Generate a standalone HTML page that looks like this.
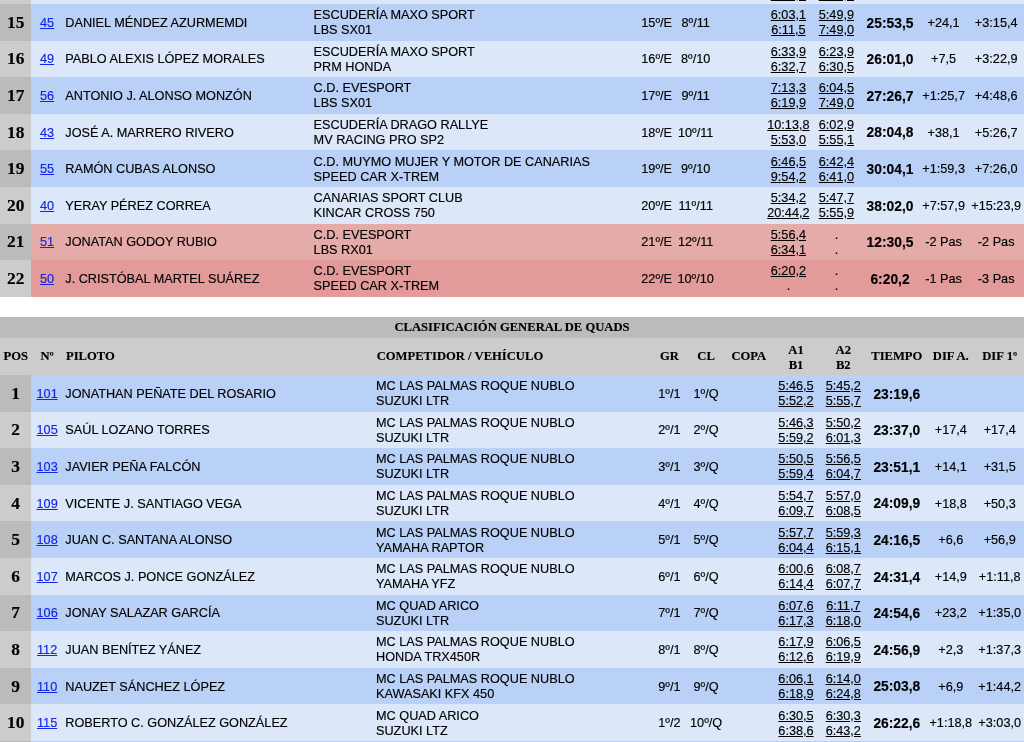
<!DOCTYPE html>
<html lang="es"><head><meta charset="utf-8"><title>Clasificación General</title>
<style>
html,body{margin:0;padding:0;background:#fff;}
body{width:1024px;height:742px;overflow:hidden;position:relative;font-family:"Liberation Sans",Arial,Helvetica,sans-serif;font-size:12.7px;line-height:15px;color:#000;}
.row,.title,.head{position:absolute;left:0;width:1024px;}
.row.a{background:#b9d1f7;}
.row.b{background:#dce7f9;}
.row.r1{background:#e4aba9;}
.row.r2{background:#e29b99;}
.row .pos{position:absolute;left:0;top:0;bottom:0;width:31.4px;}
.row.a .pos,.row.r1 .pos{background:#bbbbbb;}
.row.b .pos,.row.r2 .pos{background:#cccccc;}
.title{background:#bbbbbb;}
.head{background:#cccccc;}
.c{position:absolute;width:120px;text-align:center;white-space:nowrap;}
.l{position:absolute;white-space:nowrap;}
.c,.l{-webkit-text-stroke:0.15px currentColor;}
.pn{font-family:"Liberation Serif","Times New Roman",serif;font-weight:bold;font-size:17.4px;line-height:20px;}
.ht{font-family:"Liberation Serif","Times New Roman",serif;font-weight:bold;font-size:12.62px;}
a{color:#1226e6;text-decoration:underline;}
.tm a{color:#000;}
.tt{font-size:13.8px;}
.dot{display:inline-block;}
</style></head>
<body>
<div class="row b" style="top:-32.60px;height:36.60px"><div class="pos"></div></div>
<div class="c pn" style="left:-44.3px;top:-25px">14</div>
<div class="c " style="left:-12.9px;top:-21px"><a class="n" href="#">47</a></div>
<div class="l " style="left:65.3px;top:-21px">CARLOS J. SANTANA MEDINA</div>
<div class="l " style="left:313.6px;top:-27px">ESCUDERÍA ATERURA<br>SPEED CAR X-TREM</div>
<div class="c " style="left:596.7px;top:-21px">14º/E</div>
<div class="c " style="left:635.7px;top:-21px">7º/10</div>
<div class="c tm" style="left:728.4px;top:-27px"><a href="#">6:01,2</a><br><a href="#">6:10,4</a></div>
<div class="c tm" style="left:776.4px;top:-27px"><a href="#">5:58,8</a><br><a href="#">6:12,3</a></div>
<div class="c tt" style="left:830.0px;top:-21px"><b>25:29,4</b></div>
<div class="c " style="left:883.6px;top:-21px">+8,2</div>
<div class="c " style="left:936.2px;top:-21px">+2:51,3</div>
<div class="row a" style="top:4.00px;height:36.60px"><div class="pos"></div></div>
<div class="c pn" style="left:-44.3px;top:12px">15</div>
<div class="c " style="left:-12.9px;top:16px"><a class="n" href="#">45</a></div>
<div class="l " style="left:65.3px;top:16px">DANIEL MÉNDEZ AZURMEMDI</div>
<div class="l " style="left:313.6px;top:8px">ESCUDERÍA MAXO SPORT<br>LBS SX01</div>
<div class="c " style="left:596.7px;top:16px">15º/E</div>
<div class="c " style="left:635.7px;top:16px">8º/11</div>
<div class="c tm" style="left:728.4px;top:8px"><a href="#">6:03,1</a><br><a href="#">6:11,5</a></div>
<div class="c tm" style="left:776.4px;top:8px"><a href="#">5:49,9</a><br><a href="#">7:49,0</a></div>
<div class="c tt" style="left:830.0px;top:16px"><b>25:53,5</b></div>
<div class="c " style="left:883.6px;top:16px">+24,1</div>
<div class="c " style="left:936.2px;top:16px">+3:15,4</div>
<div class="row b" style="top:40.60px;height:36.60px"><div class="pos"></div></div>
<div class="c pn" style="left:-44.3px;top:48px">16</div>
<div class="c " style="left:-12.9px;top:52px"><a class="n" href="#">49</a></div>
<div class="l " style="left:65.3px;top:52px">PABLO ALEXIS LÓPEZ MORALES</div>
<div class="l " style="left:313.6px;top:45px">ESCUDERÍA MAXO SPORT<br>PRM HONDA</div>
<div class="c " style="left:596.7px;top:52px">16º/E</div>
<div class="c " style="left:635.7px;top:52px">8º/10</div>
<div class="c tm" style="left:728.4px;top:45px"><a href="#">6:33,9</a><br><a href="#">6:32,7</a></div>
<div class="c tm" style="left:776.4px;top:45px"><a href="#">6:23,9</a><br><a href="#">6:30,5</a></div>
<div class="c tt" style="left:830.0px;top:52px"><b>26:01,0</b></div>
<div class="c " style="left:883.6px;top:52px">+7,5</div>
<div class="c " style="left:936.2px;top:52px">+3:22,9</div>
<div class="row a" style="top:77.20px;height:36.60px"><div class="pos"></div></div>
<div class="c pn" style="left:-44.3px;top:85px">17</div>
<div class="c " style="left:-12.9px;top:89px"><a class="n" href="#">56</a></div>
<div class="l " style="left:65.3px;top:89px">ANTONIO J. ALONSO MONZÓN</div>
<div class="l " style="left:313.6px;top:81px">C.D. EVESPORT<br>LBS SX01</div>
<div class="c " style="left:596.7px;top:89px">17º/E</div>
<div class="c " style="left:635.7px;top:89px">9º/11</div>
<div class="c tm" style="left:728.4px;top:81px"><a href="#">7:13,3</a><br><a href="#">6:19,9</a></div>
<div class="c tm" style="left:776.4px;top:81px"><a href="#">6:04,5</a><br><a href="#">7:49,0</a></div>
<div class="c tt" style="left:830.0px;top:89px"><b>27:26,7</b></div>
<div class="c " style="left:883.6px;top:89px">+1:25,7</div>
<div class="c " style="left:936.2px;top:89px">+4:48,6</div>
<div class="row b" style="top:113.80px;height:36.60px"><div class="pos"></div></div>
<div class="c pn" style="left:-44.3px;top:122px">18</div>
<div class="c " style="left:-12.9px;top:126px"><a class="n" href="#">43</a></div>
<div class="l " style="left:65.3px;top:126px">JOSÉ A. MARRERO RIVERO</div>
<div class="l " style="left:313.6px;top:118px">ESCUDERÍA DRAGO RALLYE<br>MV RACING PRO SP2</div>
<div class="c " style="left:596.7px;top:126px">18º/E</div>
<div class="c " style="left:635.7px;top:126px">10º/11</div>
<div class="c tm" style="left:728.4px;top:118px"><a href="#">10:13,8</a><br><a href="#">5:53,0</a></div>
<div class="c tm" style="left:776.4px;top:118px"><a href="#">6:02,9</a><br><a href="#">5:55,1</a></div>
<div class="c tt" style="left:830.0px;top:125px"><b>28:04,8</b></div>
<div class="c " style="left:883.6px;top:126px">+38,1</div>
<div class="c " style="left:936.2px;top:126px">+5:26,7</div>
<div class="row a" style="top:150.40px;height:36.60px"><div class="pos"></div></div>
<div class="c pn" style="left:-44.3px;top:158px">19</div>
<div class="c " style="left:-12.9px;top:162px"><a class="n" href="#">55</a></div>
<div class="l " style="left:65.3px;top:162px">RAMÓN CUBAS ALONSO</div>
<div class="l " style="left:313.6px;top:155px">C.D. MUYMO MUJER Y MOTOR DE CANARIAS<br>SPEED CAR X-TREM</div>
<div class="c " style="left:596.7px;top:162px">19º/E</div>
<div class="c " style="left:635.7px;top:162px">9º/10</div>
<div class="c tm" style="left:728.4px;top:155px"><a href="#">6:46,5</a><br><a href="#">9:54,2</a></div>
<div class="c tm" style="left:776.4px;top:155px"><a href="#">6:42,4</a><br><a href="#">6:41,0</a></div>
<div class="c tt" style="left:830.0px;top:162px"><b>30:04,1</b></div>
<div class="c " style="left:883.6px;top:162px">+1:59,3</div>
<div class="c " style="left:936.2px;top:162px">+7:26,0</div>
<div class="row b" style="top:187.00px;height:36.60px"><div class="pos"></div></div>
<div class="c pn" style="left:-44.3px;top:195px">20</div>
<div class="c " style="left:-12.9px;top:199px"><a class="n" href="#">40</a></div>
<div class="l " style="left:65.3px;top:199px">YERAY PÉREZ CORREA</div>
<div class="l " style="left:313.6px;top:191px">CANARIAS SPORT CLUB<br>KINCAR CROSS 750</div>
<div class="c " style="left:596.7px;top:199px">20º/E</div>
<div class="c " style="left:635.7px;top:199px">11º/11</div>
<div class="c tm" style="left:728.4px;top:191px"><a href="#">5:34,2</a><br><a href="#">20:44,2</a></div>
<div class="c tm" style="left:776.4px;top:191px"><a href="#">5:47,7</a><br><a href="#">5:55,9</a></div>
<div class="c tt" style="left:830.0px;top:199px"><b>38:02,0</b></div>
<div class="c " style="left:883.6px;top:199px">+7:57,9</div>
<div class="c " style="left:936.2px;top:199px">+15:23,9</div>
<div class="row r1" style="top:223.60px;height:36.60px"><div class="pos"></div></div>
<div class="c pn" style="left:-44.3px;top:231px">21</div>
<div class="c " style="left:-12.9px;top:235px"><a class="n" href="#">51</a></div>
<div class="l " style="left:65.3px;top:235px">JONATAN GODOY RUBIO</div>
<div class="l " style="left:313.6px;top:228px">C.D. EVESPORT<br>LBS RX01</div>
<div class="c " style="left:596.7px;top:235px">21º/E</div>
<div class="c " style="left:635.7px;top:235px">12º/11</div>
<div class="c tm" style="left:728.4px;top:228px"><a href="#">5:56,4</a><br><a href="#">6:34,1</a></div>
<div class="c tm" style="left:776.4px;top:228px"><span class="dot">.</span><br><span class="dot">.</span></div>
<div class="c tt" style="left:830.0px;top:235px"><b>12:30,5</b></div>
<div class="c " style="left:883.6px;top:235px">-2 Pas</div>
<div class="c " style="left:936.2px;top:235px">-2 Pas</div>
<div class="row r2" style="top:260.20px;height:36.60px"><div class="pos"></div></div>
<div class="c pn" style="left:-44.3px;top:268px">22</div>
<div class="c " style="left:-12.9px;top:272px"><a class="n" href="#">50</a></div>
<div class="l " style="left:65.3px;top:272px">J. CRISTÓBAL MARTEL SUÁREZ</div>
<div class="l " style="left:313.6px;top:264px">C.D. EVESPORT<br>SPEED CAR X-TREM</div>
<div class="c " style="left:596.7px;top:272px">22º/E</div>
<div class="c " style="left:635.7px;top:272px">10º/10</div>
<div class="c tm" style="left:728.4px;top:264px"><a href="#">6:20,2</a><br><span class="dot">.</span></div>
<div class="c tm" style="left:776.4px;top:264px"><span class="dot">.</span><br><span class="dot">.</span></div>
<div class="c tt" style="left:830.0px;top:272px"><b>6:20,2</b></div>
<div class="c " style="left:883.6px;top:272px">-1 Pas</div>
<div class="c " style="left:936.2px;top:272px">-3 Pas</div>
<div class="title" style="top:316.9px;height:21.2px"></div>
<div class="c ht" style="left:0;width:1024px;top:320px">CLASIFICACIÓN GENERAL DE QUADS</div>
<div class="head" style="top:338.1px;height:36.9px"></div>
<div class="c ht" style="left:-44.3px;top:349px">POS</div>
<div class="c ht" style="left:-12.9px;top:349px">Nº</div>
<div class="l ht" style="left:66.0px;top:349px">PILOTO</div>
<div class="l ht" style="left:376.7px;top:349px">COMPETIDOR / VEHÍCULO</div>
<div class="c ht" style="left:609.4px;top:349px">GR</div>
<div class="c ht" style="left:646.1px;top:349px">CL</div>
<div class="c ht" style="left:688.8px;top:349px">COPA</div>
<div class="c ht" style="left:736.0px;top:343px">A1<br>B1</div>
<div class="c ht" style="left:783.3px;top:343px">A2<br>B2</div>
<div class="c ht" style="left:836.8px;top:349px">TIEMPO</div>
<div class="c ht" style="left:890.8px;top:349px">DIF A.</div>
<div class="c ht" style="left:939.7px;top:349px">DIF 1º</div>
<div class="row a" style="top:375.00px;height:36.60px"><div class="pos"></div></div>
<div class="c pn" style="left:-44.3px;top:383px">1</div>
<div class="c " style="left:-12.9px;top:387px"><a class="n" href="#">101</a></div>
<div class="l " style="left:65.3px;top:387px">JONATHAN PEÑATE DEL ROSARIO</div>
<div class="l " style="left:376.0px;top:379px">MC LAS PALMAS ROQUE NUBLO<br>SUZUKI LTR</div>
<div class="c " style="left:609.4px;top:387px">1º/1</div>
<div class="c " style="left:646.1px;top:387px">1º/Q</div>
<div class="c tm" style="left:736.0px;top:379px"><a href="#">5:46,5</a><br><a href="#">5:52,2</a></div>
<div class="c tm" style="left:783.3px;top:379px"><a href="#">5:45,2</a><br><a href="#">5:55,7</a></div>
<div class="c tt" style="left:836.8px;top:387px"><b>23:19,6</b></div>
<div class="row b" style="top:411.60px;height:36.60px"><div class="pos"></div></div>
<div class="c pn" style="left:-44.3px;top:419px">2</div>
<div class="c " style="left:-12.9px;top:423px"><a class="n" href="#">105</a></div>
<div class="l " style="left:65.3px;top:423px">SAÚL LOZANO TORRES</div>
<div class="l " style="left:376.0px;top:416px">MC LAS PALMAS ROQUE NUBLO<br>SUZUKI LTR</div>
<div class="c " style="left:609.4px;top:423px">2º/1</div>
<div class="c " style="left:646.1px;top:423px">2º/Q</div>
<div class="c tm" style="left:736.0px;top:416px"><a href="#">5:46,3</a><br><a href="#">5:59,2</a></div>
<div class="c tm" style="left:783.3px;top:416px"><a href="#">5:50,2</a><br><a href="#">6:01,3</a></div>
<div class="c tt" style="left:836.8px;top:423px"><b>23:37,0</b></div>
<div class="c " style="left:890.8px;top:423px">+17,4</div>
<div class="c " style="left:939.7px;top:423px">+17,4</div>
<div class="row a" style="top:448.20px;height:36.60px"><div class="pos"></div></div>
<div class="c pn" style="left:-44.3px;top:456px">3</div>
<div class="c " style="left:-12.9px;top:460px"><a class="n" href="#">103</a></div>
<div class="l " style="left:65.3px;top:460px">JAVIER PEÑA FALCÓN</div>
<div class="l " style="left:376.0px;top:452px">MC LAS PALMAS ROQUE NUBLO<br>SUZUKI LTR</div>
<div class="c " style="left:609.4px;top:460px">3º/1</div>
<div class="c " style="left:646.1px;top:460px">3º/Q</div>
<div class="c tm" style="left:736.0px;top:452px"><a href="#">5:50,5</a><br><a href="#">5:59,4</a></div>
<div class="c tm" style="left:783.3px;top:452px"><a href="#">5:56,5</a><br><a href="#">6:04,7</a></div>
<div class="c tt" style="left:836.8px;top:460px"><b>23:51,1</b></div>
<div class="c " style="left:890.8px;top:460px">+14,1</div>
<div class="c " style="left:939.7px;top:460px">+31,5</div>
<div class="row b" style="top:484.80px;height:36.60px"><div class="pos"></div></div>
<div class="c pn" style="left:-44.3px;top:493px">4</div>
<div class="c " style="left:-12.9px;top:497px"><a class="n" href="#">109</a></div>
<div class="l " style="left:65.3px;top:497px">VICENTE J. SANTIAGO VEGA</div>
<div class="l " style="left:376.0px;top:489px">MC LAS PALMAS ROQUE NUBLO<br>SUZUKI LTR</div>
<div class="c " style="left:609.4px;top:497px">4º/1</div>
<div class="c " style="left:646.1px;top:497px">4º/Q</div>
<div class="c tm" style="left:736.0px;top:489px"><a href="#">5:54,7</a><br><a href="#">6:09,7</a></div>
<div class="c tm" style="left:783.3px;top:489px"><a href="#">5:57,0</a><br><a href="#">6:08,5</a></div>
<div class="c tt" style="left:836.8px;top:496px"><b>24:09,9</b></div>
<div class="c " style="left:890.8px;top:497px">+18,8</div>
<div class="c " style="left:939.7px;top:497px">+50,3</div>
<div class="row a" style="top:521.40px;height:36.60px"><div class="pos"></div></div>
<div class="c pn" style="left:-44.3px;top:529px">5</div>
<div class="c " style="left:-12.9px;top:533px"><a class="n" href="#">108</a></div>
<div class="l " style="left:65.3px;top:533px">JUAN C. SANTANA ALONSO</div>
<div class="l " style="left:376.0px;top:526px">MC LAS PALMAS ROQUE NUBLO<br>YAMAHA RAPTOR</div>
<div class="c " style="left:609.4px;top:533px">5º/1</div>
<div class="c " style="left:646.1px;top:533px">5º/Q</div>
<div class="c tm" style="left:736.0px;top:526px"><a href="#">5:57,7</a><br><a href="#">6:04,4</a></div>
<div class="c tm" style="left:783.3px;top:526px"><a href="#">5:59,3</a><br><a href="#">6:15,1</a></div>
<div class="c tt" style="left:836.8px;top:533px"><b>24:16,5</b></div>
<div class="c " style="left:890.8px;top:533px">+6,6</div>
<div class="c " style="left:939.7px;top:533px">+56,9</div>
<div class="row b" style="top:558.00px;height:36.60px"><div class="pos"></div></div>
<div class="c pn" style="left:-44.3px;top:566px">6</div>
<div class="c " style="left:-12.9px;top:570px"><a class="n" href="#">107</a></div>
<div class="l " style="left:65.3px;top:570px">MARCOS J. PONCE GONZÁLEZ</div>
<div class="l " style="left:376.0px;top:562px">MC LAS PALMAS ROQUE NUBLO<br>YAMAHA YFZ</div>
<div class="c " style="left:609.4px;top:570px">6º/1</div>
<div class="c " style="left:646.1px;top:570px">6º/Q</div>
<div class="c tm" style="left:736.0px;top:562px"><a href="#">6:00,6</a><br><a href="#">6:14,4</a></div>
<div class="c tm" style="left:783.3px;top:562px"><a href="#">6:08,7</a><br><a href="#">6:07,7</a></div>
<div class="c tt" style="left:836.8px;top:570px"><b>24:31,4</b></div>
<div class="c " style="left:890.8px;top:570px">+14,9</div>
<div class="c " style="left:939.7px;top:570px">+1:11,8</div>
<div class="row a" style="top:594.60px;height:36.60px"><div class="pos"></div></div>
<div class="c pn" style="left:-44.3px;top:602px">7</div>
<div class="c " style="left:-12.9px;top:606px"><a class="n" href="#">106</a></div>
<div class="l " style="left:65.3px;top:606px">JONAY SALAZAR GARCÍA</div>
<div class="l " style="left:376.0px;top:599px">MC QUAD ARICO<br>SUZUKI LTR</div>
<div class="c " style="left:609.4px;top:606px">7º/1</div>
<div class="c " style="left:646.1px;top:606px">7º/Q</div>
<div class="c tm" style="left:736.0px;top:599px"><a href="#">6:07,6</a><br><a href="#">6:17,3</a></div>
<div class="c tm" style="left:783.3px;top:599px"><a href="#">6:11,7</a><br><a href="#">6:18,0</a></div>
<div class="c tt" style="left:836.8px;top:606px"><b>24:54,6</b></div>
<div class="c " style="left:890.8px;top:606px">+23,2</div>
<div class="c " style="left:939.7px;top:606px">+1:35,0</div>
<div class="row b" style="top:631.20px;height:36.60px"><div class="pos"></div></div>
<div class="c pn" style="left:-44.3px;top:639px">8</div>
<div class="c " style="left:-12.9px;top:643px"><a class="n" href="#">112</a></div>
<div class="l " style="left:65.3px;top:643px">JUAN BENÍTEZ YÁNEZ</div>
<div class="l " style="left:376.0px;top:635px">MC LAS PALMAS ROQUE NUBLO<br>HONDA TRX450R</div>
<div class="c " style="left:609.4px;top:643px">8º/1</div>
<div class="c " style="left:646.1px;top:643px">8º/Q</div>
<div class="c tm" style="left:736.0px;top:635px"><a href="#">6:17,9</a><br><a href="#">6:12,6</a></div>
<div class="c tm" style="left:783.3px;top:635px"><a href="#">6:06,5</a><br><a href="#">6:19,9</a></div>
<div class="c tt" style="left:836.8px;top:643px"><b>24:56,9</b></div>
<div class="c " style="left:890.8px;top:643px">+2,3</div>
<div class="c " style="left:939.7px;top:643px">+1:37,3</div>
<div class="row a" style="top:667.80px;height:36.60px"><div class="pos"></div></div>
<div class="c pn" style="left:-44.3px;top:676px">9</div>
<div class="c " style="left:-12.9px;top:680px"><a class="n" href="#">110</a></div>
<div class="l " style="left:65.3px;top:680px">NAUZET SÁNCHEZ LÓPEZ</div>
<div class="l " style="left:376.0px;top:672px">MC LAS PALMAS ROQUE NUBLO<br>KAWASAKI KFX 450</div>
<div class="c " style="left:609.4px;top:680px">9º/1</div>
<div class="c " style="left:646.1px;top:680px">9º/Q</div>
<div class="c tm" style="left:736.0px;top:672px"><a href="#">6:06,1</a><br><a href="#">6:18,9</a></div>
<div class="c tm" style="left:783.3px;top:672px"><a href="#">6:14,0</a><br><a href="#">6:24,8</a></div>
<div class="c tt" style="left:836.8px;top:679px"><b>25:03,8</b></div>
<div class="c " style="left:890.8px;top:680px">+6,9</div>
<div class="c " style="left:939.7px;top:680px">+1:44,2</div>
<div class="row b" style="top:704.40px;height:36.60px"><div class="pos"></div></div>
<div class="c pn" style="left:-44.3px;top:712px">10</div>
<div class="c " style="left:-12.9px;top:716px"><a class="n" href="#">115</a></div>
<div class="l " style="left:65.3px;top:716px">ROBERTO C. GONZÁLEZ GONZÁLEZ</div>
<div class="l " style="left:376.0px;top:709px">MC QUAD ARICO<br>SUZUKI LTZ</div>
<div class="c " style="left:609.4px;top:716px">1º/2</div>
<div class="c " style="left:646.1px;top:716px">10º/Q</div>
<div class="c tm" style="left:736.0px;top:709px"><a href="#">6:30,5</a><br><a href="#">6:38,6</a></div>
<div class="c tm" style="left:783.3px;top:709px"><a href="#">6:30,3</a><br><a href="#">6:43,2</a></div>
<div class="c tt" style="left:836.8px;top:716px"><b>26:22,6</b></div>
<div class="c " style="left:890.8px;top:716px">+1:18,8</div>
<div class="c " style="left:939.7px;top:716px">+3:03,0</div>
<div class="row a" style="top:741.00px;height:36.60px"><div class="pos"></div></div>
<div class="c pn" style="left:-44.3px;top:749px">11</div>
<div class="c " style="left:-12.9px;top:753px"><a class="n" href="#">111</a></div>
<div class="l " style="left:65.3px;top:753px">AYOZE J. MEDINA RAMOS</div>
<div class="l " style="left:376.0px;top:745px">MC QUAD ARICO<br>YAMAHA YFZ</div>
<div class="c " style="left:609.4px;top:753px">2º/2</div>
<div class="c " style="left:646.1px;top:753px">11º/Q</div>
<div class="c tm" style="left:736.0px;top:745px"><a href="#">6:35,1</a><br><a href="#">6:40,2</a></div>
<div class="c tm" style="left:783.3px;top:745px"><a href="#">6:33,9</a><br><a href="#">6:45,8</a></div>
<div class="c tt" style="left:836.8px;top:753px"><b>26:35,0</b></div>
<div class="c " style="left:890.8px;top:753px">+12,4</div>
<div class="c " style="left:939.7px;top:753px">+3:15,4</div>
</body></html>
